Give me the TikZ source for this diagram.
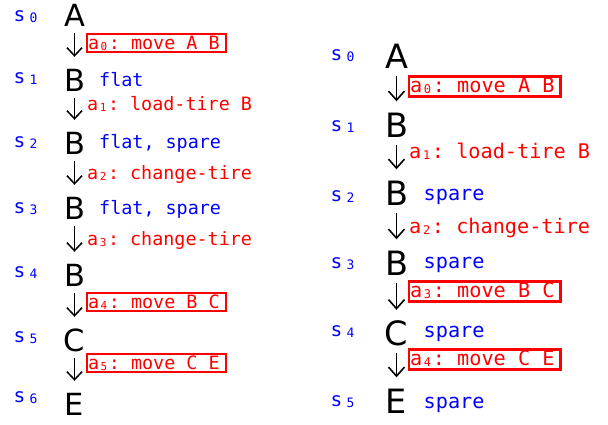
\documentclass[tikz,border=0pt]{standalone}
\usepackage{fontspec}
\setmainfont{DejaVu Sans}
\setmonofont{DejaVu Sans Mono}
\usepackage{xcolor}
\usetikzlibrary{arrows.meta, positioning}

\newcommand{\lowdigit}[2]{\raisebox{-1pt}{\fontsize{#1}{#1}\selectfont #2}}

\begin{document}
\begin{tikzpicture}[
  x=1pt, y=-1pt,
  place/.style={font=\fontsize{30.5}{30.5}\selectfont, text height=22pt, text depth=0pt,
                inner sep=0pt, anchor=base},
  bigplace/.style={place, font=\fontsize{33.5}{33.5}\selectfont, text height=24.5pt},
  state/.style={text=blue, font=\ttfamily\fontsize{19.5}{19.5}\selectfont, inner sep=0pt,
                anchor=base west},
  fact/.style={text=blue, font=\ttfamily\fontsize{18.4}{18.4}\selectfont, inner sep=0pt,
               anchor=base west},
  bigfact/.style={fact, font=\ttfamily\fontsize{20.2}{20.2}\selectfont},
  act/.style={text=red, font=\ttfamily\fontsize{18.4}{18.4}\selectfont, inner sep=1pt,
              text height=14pt, text depth=2pt, anchor=base west},
  bigact/.style={act, font=\ttfamily\fontsize{20.2}{20.2}\selectfont, text height=14.5pt,
                 text depth=3.4pt},
  chosen/.style={draw=red, line width=2.2pt, execute at end node={\kern5pt}},
  flow/.style={-{Straight Barb[length=8pt, width=15pt]}, line width=1.5pt,
               shorten <=7pt, shorten >=12pt},
  bigflow/.style={-{Straight Barb[length=9pt, width=16pt]}, line width=1.6pt,
                  shorten <=7.6pt, shorten >=11pt}
]
  \useasboundingbox (0,0) rectangle (608,424);

  %% Left plan: places
  \node[place] (l0) at (74.5,26) {A};
  \node[place] (l1) at (74.5,91) {B};
  \node[place] (l2) at (74.5,154) {B};
  \node[place] (l3) at (74.5,219) {B};
  \node[place] (l4) at (74.5,286) {B};
  \node[place] (l5) at (74.5,351) {C};
  \node[place] (l6) at (74.5,415) {E};

  %% Left plan: state names
  \node[state] (ls0) at (13.3,21) {s\kern4.5pt\lowdigit{13}{0}};
  \node[state] (ls1) at (13.3,83) {s\kern4.5pt\lowdigit{13}{1}};
  \node[state] (ls2) at (13.3,147) {s\kern4.5pt\lowdigit{13}{2}};
  \node[state] (ls3) at (13.3,213) {s\kern4.5pt\lowdigit{13}{3}};
  \node[state] (ls4) at (13.3,277) {s\kern4.5pt\lowdigit{13}{4}};
  \node[state] (ls5) at (13.3,342) {s\kern4.5pt\lowdigit{13}{5}};
  \node[state] (ls6) at (13.3,402) {s\kern4.5pt\lowdigit{13}{6}};

  %% Left plan: facts
  \node[fact] (lf1) at (99,86) {flat};
  \node[fact] (lf2) at (99,148) {flat, spare};
  \node[fact] (lf3) at (99,214) {flat, spare};

  %% Left plan: actions
  \node[act, chosen] (la0) at (86,49.3) {a\kern1.5pt\lowdigit{11}{0}\kern1.6pt: move A B};
  \node[act] (la1) at (86,110) {a\kern1.5pt\lowdigit{11}{1}\kern1.6pt: load-tire B};
  \node[act] (la2) at (86,179.3) {a\kern1.5pt\lowdigit{11}{2}\kern1.6pt: change-tire};
  \node[act] (la3) at (86,245) {a\kern1.5pt\lowdigit{11}{3}\kern1.6pt: change-tire};
  \node[act, chosen] (la4) at (86,308.3) {a\kern1.5pt\lowdigit{11}{4}\kern1.6pt: move B C};
  \node[act, chosen] (la5) at (86,369) {a\kern1.5pt\lowdigit{11}{5}\kern1.6pt: move C E};

  %% Left plan: steps
  \draw[flow] (l0) -- (l1);
  \draw[flow] (l1) -- (l2);
  \draw[flow] (l2) -- (l3);
  \draw[flow] (l3) -- (l4);
  \draw[flow] (l4) -- (l5);
  \draw[flow] (l5) -- (l6);

  %% Right plan: places
  \node[bigplace] (r0) at (396.5,68) {A};
  \node[bigplace] (r1) at (396.5,137) {B};
  \node[bigplace] (r2) at (396.5,205) {B};
  \node[bigplace] (r3) at (396.5,275) {B};
  \node[bigplace] (r4) at (396.5,345.5) {C};
  \node[bigplace] (r5) at (396.5,413) {E};

  %% Right plan: state names
  \node[state] (rs0) at (330.3,60) {s\kern4.5pt\lowdigit{13}{0}};
  \node[state] (rs1) at (330.3,131) {s\kern4.5pt\lowdigit{13}{1}};
  \node[state] (rs2) at (330.3,201.7) {s\kern4.5pt\lowdigit{13}{2}};
  \node[state] (rs3) at (330.3,268) {s\kern4.5pt\lowdigit{13}{3}};
  \node[state] (rs4) at (330.3,336.7) {s\kern4.5pt\lowdigit{13}{4}};
  \node[state] (rs5) at (330.3,406.7) {s\kern4.5pt\lowdigit{13}{5}};

  %% Right plan: facts
  \node[bigfact] (rf2) at (423.5,200.7) {spare};
  \node[bigfact] (rf3) at (423.5,268.3) {spare};
  \node[bigfact] (rf4) at (423.5,337.3) {spare};
  \node[bigfact] (rf5) at (423.5,408) {spare};

  %% Right plan: actions
  \node[bigact, chosen] (ra0) at (408,92) {a\kern1.7pt\lowdigit{12}{0}\kern1.7pt: move A B};
  \node[bigact] (ra1) at (408,158) {a\kern1.7pt\lowdigit{12}{1}\kern1.7pt: load-tire B};
  \node[bigact] (ra2) at (408,233.3) {a\kern1.7pt\lowdigit{12}{2}\kern1.7pt: change-tire};
  \node[bigact, chosen] (ra3) at (408,297) {a\kern1.7pt\lowdigit{12}{3}\kern1.7pt: move B C};
  \node[bigact, chosen] (ra4) at (408,365) {a\kern1.7pt\lowdigit{12}{4}\kern1.7pt: move C E};

  %% Right plan: steps
  \draw[bigflow] (r0) -- (r1);
  \draw[bigflow] (r1) -- (r2);
  \draw[bigflow] (r2) -- (r3);
  \draw[bigflow] (r3) -- (r4);
  \draw[bigflow] (r4) -- (r5);
\end{tikzpicture}
\end{document}
